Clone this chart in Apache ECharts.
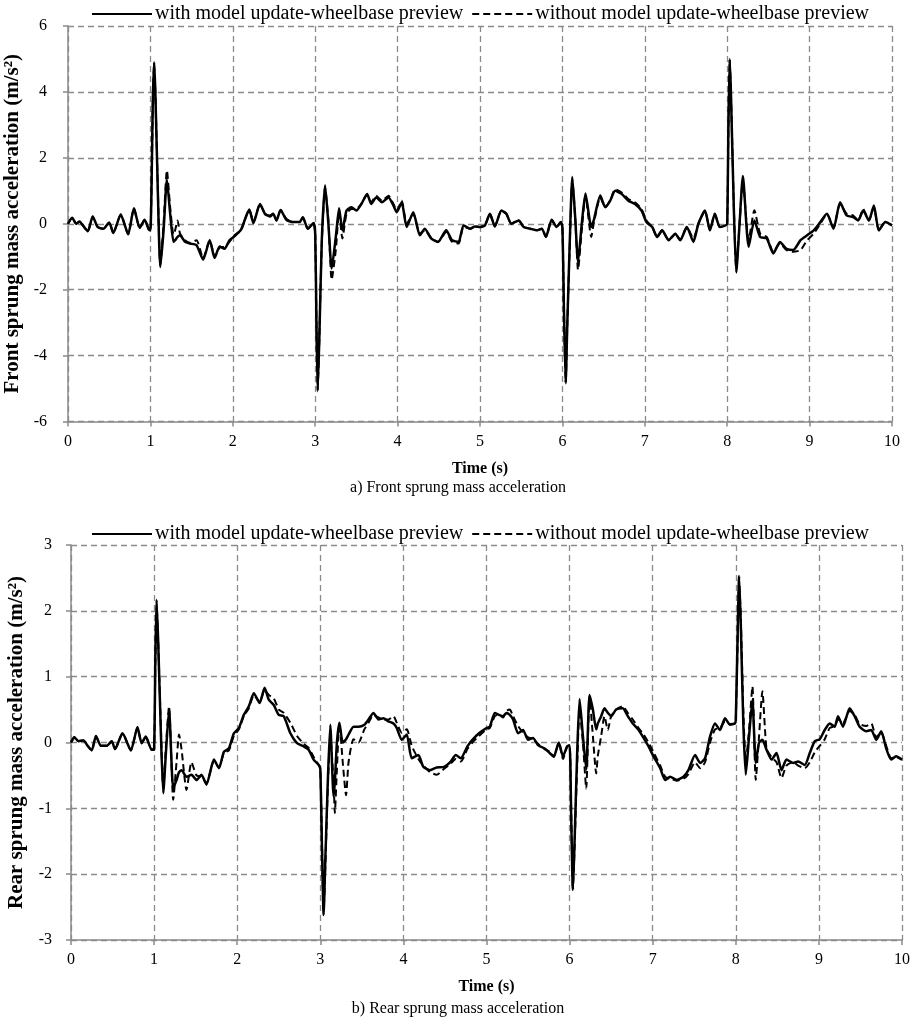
<!DOCTYPE html>
<html>
<head>
<meta charset="utf-8">
<script src="https://cdn.jsdelivr.net/npm/echarts@6/dist/echarts.min.js"></script>
<style>
html,body{margin:0;padding:0;background:#fff;}
#chart{width:916px;height:1036px;}
</style>
</head>
<body>
<div id="chart"></div>
<script>
// ---------- DATA ----------
const seriesNames = ['with model update-wheelbase preview', 'without model update-wheelbase preview'];
const xTicks = [0,1,2,3,4,5,6,7,8,9,10];

const frontT = [0.00,0.05,0.10,0.14,0.18,0.24,0.30,0.36,0.43,0.50,0.55,0.64,0.73,0.80,0.87,0.93,0.98,
1.00,1.03,1.045,1.06,1.09,1.12,1.16,1.20,1.24,1.28,1.30,1.33,1.36,1.42,1.48,1.56,1.64,1.72,1.78,1.84,1.90,1.96,
2.02,2.10,2.20,2.25,2.33,2.39,2.45,2.49,2.53,2.58,2.65,2.73,2.81,2.85,2.91,2.98,
3.00,3.015,3.03,3.05,3.08,3.12,3.16,3.20,3.25,3.29,3.33,3.38,3.44,3.50,3.56,3.63,3.68,3.74,3.81,3.89,3.95,3.99,
4.05,4.11,4.19,4.27,4.33,4.41,4.49,4.59,4.66,4.74,4.80,4.88,4.94,
5.00,5.06,5.12,5.18,5.26,5.32,5.38,5.47,5.53,5.61,5.69,5.75,5.80,5.87,5.93,5.98,
6.00,6.02,6.04,6.06,6.09,6.12,6.155,6.19,6.235,6.28,6.35,6.38,6.46,6.52,6.58,6.64,6.72,6.80,6.88,6.96,
7.02,7.09,7.15,7.21,7.29,7.37,7.43,7.51,7.59,7.65,7.73,7.79,7.85,7.91,7.98,
8.00,8.015,8.03,8.045,8.08,8.11,8.15,8.19,8.26,8.33,8.40,8.48,8.56,8.64,8.72,8.80,8.89,8.97,
9.05,9.13,9.21,9.29,9.37,9.45,9.53,9.59,9.65,9.72,9.78,9.84,9.92,10.00];

const frontWith = [0.00,0.18,0.00,0.07,-0.05,-0.23,0.22,-0.10,-0.15,0.04,-0.28,0.28,-0.32,0.47,-0.13,0.12,-0.17,
-0.20,3.80,4.90,4.00,1.00,-1.31,-0.20,1.34,0.30,-0.55,-0.50,-0.40,-0.35,-0.55,-0.60,-0.65,-1.09,-0.50,-1.04,-0.69,-0.76,-0.50,
-0.38,-0.18,0.43,0.02,0.60,0.30,0.22,0.30,0.10,0.42,0.12,0.05,0.05,0.20,-0.15,0.02,
-0.30,-3.00,-5.08,-3.50,-0.50,1.17,0.00,-1.36,-0.40,0.47,-0.20,0.40,0.50,0.40,0.60,0.90,0.60,0.80,0.65,0.80,0.55,0.35,
0.65,-0.10,0.35,-0.35,-0.15,-0.45,-0.55,-0.20,-0.50,-0.55,-0.05,-0.15,-0.08,
-0.10,-0.05,0.30,-0.08,0.40,0.30,0.00,0.10,-0.10,-0.15,-0.20,-0.15,-0.40,0.12,-0.10,0.05,
-0.10,-2.80,-4.84,-3.00,-0.50,1.42,0.20,-1.16,0.00,0.92,-0.10,0.10,0.86,0.50,0.70,1.00,0.90,0.70,0.60,0.40,
0.05,-0.10,-0.40,-0.20,-0.50,-0.30,-0.50,-0.10,-0.55,0.00,0.40,-0.20,0.30,-0.10,-0.05,
0.00,3.00,5.00,4.00,0.50,-1.48,0.00,1.45,-0.70,0.10,-0.40,-0.45,-0.90,-0.55,-0.76,-0.80,-0.50,-0.35,
-0.20,0.05,0.30,-0.15,0.65,0.25,0.20,0.10,0.40,0.10,0.55,-0.20,0.05,-0.05];

const frontWithout = [0.00,0.18,0.00,0.07,-0.05,-0.23,0.22,-0.10,-0.15,0.04,-0.28,0.28,-0.32,0.47,-0.13,0.12,-0.17,
-0.20,3.70,4.85,4.00,1.10,-1.25,0.00,1.62,0.50,-0.33,-0.20,0.10,-0.30,-0.50,-0.58,-0.50,-1.05,-0.50,-1.00,-0.72,-0.70,-0.55,
-0.35,-0.20,0.43,0.05,0.60,0.30,0.25,0.30,0.10,0.42,0.15,0.05,0.05,0.20,-0.15,0.02,
-0.30,-2.90,-5.00,-3.50,-0.60,1.10,0.10,-1.70,-0.80,0.35,-0.45,0.30,0.45,0.45,0.60,0.88,0.65,0.85,0.70,0.85,0.60,0.40,
0.70,0.00,0.30,-0.30,-0.20,-0.45,-0.55,-0.25,-0.55,-0.60,-0.10,-0.15,-0.08,
-0.10,-0.05,0.30,-0.08,0.40,0.30,0.00,0.10,-0.10,-0.15,-0.20,-0.15,-0.40,0.12,-0.10,0.05,
-0.10,-2.70,-4.80,-3.00,-0.60,1.35,0.20,-1.40,-0.20,0.85,-0.40,0.00,0.80,0.50,0.70,1.05,0.95,0.75,0.65,0.45,
0.10,-0.10,-0.40,-0.20,-0.50,-0.30,-0.50,-0.10,-0.45,0.00,0.40,-0.20,0.30,-0.10,-0.05,
0.00,2.90,4.95,4.00,0.60,-1.40,0.00,1.30,-0.50,0.41,-0.30,-0.40,-0.85,-0.60,-0.80,-0.85,-0.80,-0.50,
-0.30,0.00,0.30,-0.10,0.60,0.30,0.25,0.10,0.45,0.10,0.50,-0.20,0.05,-0.05];

const rearT = [0.00,0.04,0.09,0.15,0.20,0.25,0.30,0.36,0.43,0.49,0.53,0.62,0.72,0.80,0.85,0.90,0.97,
1.00,1.015,1.03,1.05,1.08,1.11,1.145,1.18,1.23,1.27,1.30,1.33,1.39,1.45,1.51,1.57,1.63,1.72,1.78,1.84,1.90,1.96,
2.02,2.08,2.14,2.20,2.27,2.33,2.38,2.44,2.50,2.56,2.64,2.72,2.80,2.86,2.92,2.98,
3.00,3.02,3.04,3.06,3.09,3.12,3.16,3.175,3.20,3.23,3.27,3.31,3.34,3.40,3.46,3.53,3.58,3.64,3.70,3.76,3.82,3.88,3.92,3.98,
4.04,4.10,4.18,4.24,4.32,4.40,4.49,4.57,4.63,4.69,4.77,4.83,4.91,
5.00,5.04,5.10,5.15,5.20,5.24,5.28,5.32,5.38,5.44,5.50,5.56,5.62,5.70,5.76,5.81,5.87,5.92,5.97,
6.00,6.02,6.04,6.06,6.09,6.12,6.16,6.20,6.24,6.28,6.32,6.34,6.38,6.42,6.46,6.50,6.56,6.64,6.70,6.76,6.83,6.89,6.95,
7.01,7.09,7.15,7.21,7.29,7.37,7.43,7.51,7.57,7.63,7.69,7.75,7.81,7.87,7.93,7.99,
8.00,8.02,8.04,8.06,8.09,8.12,8.16,8.20,8.24,8.28,8.32,8.37,8.43,8.49,8.55,8.61,8.69,8.75,8.83,8.89,8.95,
9.01,9.07,9.13,9.19,9.23,9.29,9.37,9.43,9.49,9.57,9.63,9.69,9.75,9.81,9.87,9.93,10.00];

const rearWith = [0.00,0.08,0.02,0.03,-0.05,-0.12,0.10,-0.05,-0.05,0.02,-0.10,0.14,-0.12,0.23,-0.01,0.09,-0.11,
-0.10,1.30,2.17,1.50,0.20,-0.77,-0.10,0.50,-0.69,-0.57,-0.45,-0.42,-0.52,-0.49,-0.57,-0.49,-0.64,-0.26,-0.39,-0.14,-0.09,0.14,
0.22,0.42,0.55,0.75,0.60,0.83,0.65,0.57,0.42,0.40,0.14,-0.01,-0.06,-0.11,-0.26,-0.34,
-0.40,-1.60,-2.62,-1.80,-0.60,0.27,-0.82,-0.60,0.00,0.30,0.00,0.05,0.12,0.24,0.24,0.27,0.35,0.45,0.35,0.37,0.32,0.29,0.22,0.04,
0.12,-0.24,-0.19,-0.37,-0.42,-0.38,-0.37,-0.29,-0.19,-0.24,-0.06,0.04,0.14,
0.22,0.24,0.45,0.42,0.40,0.45,0.42,0.35,0.14,0.19,0.04,0.07,-0.04,-0.09,-0.16,-0.21,0.00,-0.21,-0.06,
-0.04,-1.20,-2.24,-1.50,-0.20,0.66,0.10,-0.41,0.72,0.50,0.20,0.29,0.40,0.52,0.45,0.40,0.50,0.52,0.40,0.29,0.19,0.07,-0.06,
-0.21,-0.39,-0.57,-0.52,-0.57,-0.52,-0.42,-0.19,-0.31,-0.24,0.09,0.29,0.19,0.37,0.27,0.29,
0.35,1.50,2.53,1.80,0.30,-0.49,0.10,0.65,-0.31,0.00,0.04,-0.11,-0.26,-0.16,-0.42,-0.26,-0.31,-0.29,-0.34,-0.16,0.02,
0.05,0.19,0.29,0.24,0.40,0.24,0.52,0.40,0.24,0.17,0.19,0.04,0.17,-0.09,-0.26,-0.21,-0.26];

const rearWithout = [0.00,0.08,0.02,0.03,-0.05,-0.12,0.10,-0.05,-0.05,0.02,-0.10,0.14,-0.12,0.23,-0.01,0.09,-0.11,
-0.10,1.20,2.10,1.50,0.30,-0.70,0.00,0.55,-0.87,-0.30,0.12,-0.10,-0.72,-0.30,-0.50,-0.52,-0.62,-0.28,-0.38,-0.16,-0.12,0.10,
0.20,0.40,0.52,0.72,0.62,0.80,0.72,0.67,0.50,0.45,0.30,0.10,-0.02,-0.08,-0.22,-0.34,
-0.40,-1.50,-2.55,-1.90,-0.70,0.10,-0.60,-1.07,-0.40,0.30,-0.30,-0.80,-0.30,0.05,0.00,0.20,0.30,0.42,0.38,0.35,0.35,0.40,0.30,0.15,
0.20,-0.05,-0.25,-0.35,-0.45,-0.49,-0.40,-0.32,-0.25,-0.29,-0.10,0.00,0.10,
0.20,0.22,0.40,0.42,0.38,0.48,0.50,0.40,0.25,0.15,0.08,0.05,-0.02,-0.10,-0.14,-0.22,0.00,-0.25,-0.06,
-0.04,-1.10,-2.20,-1.60,-0.40,0.50,0.00,-0.70,0.70,0.10,-0.47,-0.20,0.10,0.40,0.19,0.40,0.50,0.55,0.45,0.35,0.22,0.12,0.00,
-0.15,-0.35,-0.52,-0.55,-0.58,-0.55,-0.48,-0.30,-0.39,-0.30,0.00,0.20,0.22,0.32,0.28,0.29,
0.35,1.40,2.45,1.90,0.50,-0.30,0.20,0.85,-0.57,0.10,0.78,-0.10,-0.22,-0.30,-0.54,-0.35,-0.30,-0.35,-0.39,-0.30,-0.15,
-0.05,0.05,0.22,0.25,0.35,0.30,0.48,0.42,0.28,0.25,0.29,0.08,0.15,-0.05,-0.24,-0.22,-0.26];

const frontYTicks = {min:-6, max:6, step:2};
const rearYTicks = {min:-3, max:3, step:1};
const titles = {
  frontY: 'Front sprung mass acceleration (m/s²)',
  rearY: 'Rear sprung mass acceleration (m/s²)',
  x: 'Time (s)',
  capA: 'a) Front sprung mass acceleration',
  capB: 'b) Rear sprung mass acceleration'
};

// ---------- CHART ----------
const FONT = 'Liberation Serif';
const gridGray = '#8a8a8a';
const pair = (ts, vs) => ts.map((t, i) => [t, vs[i]]);

function xAxisCfg(gridIndex) {
  return {
    type: 'value', gridIndex, min: 0, max: 10, interval: 1,
    name: titles.x, nameLocation: 'middle', nameGap: 39,
    nameTextStyle: {fontFamily: FONT, fontWeight: 'bold', fontSize: 16, color: '#000'},
    axisLine: {show: true, onZero: false, lineStyle: {color: gridGray, width: 1.5}},
    axisTick: {show: true, length: 5, lineStyle: {color: gridGray, width: 1.5}},
    axisLabel: {fontFamily: FONT, fontSize: 16, color: '#000', margin: 12},
    splitLine: {show: true, lineStyle: {color: gridGray, width: 1.3, type: [6, 4]}}
  };
}
function yAxisCfg(gridIndex, tk, name, margin, gap) {
  return {
    type: 'value', gridIndex, min: tk.min, max: tk.max, interval: tk.step,
    name, nameLocation: 'middle', nameGap: gap,
    nameTextStyle: {fontFamily: FONT, fontWeight: 'bold', fontSize: 21, color: '#000'},
    axisLine: {show: true, onZero: false, lineStyle: {color: gridGray, width: 1.5}},
    axisTick: {show: true, length: 5, lineStyle: {color: gridGray, width: 1.5}},
    axisLabel: {fontFamily: FONT, fontSize: 16, color: '#000', margin},
    splitLine: {show: true, lineStyle: {color: gridGray, width: 1.3, type: [6, 4]}}
  };
}
function lineSeries(name, data, idx, dashed) {
  return {
    name, type: 'line', data, xAxisIndex: idx, yAxisIndex: idx,
    showSymbol: false, symbol: 'none', smooth: 0.2, animation: false,
    lineStyle: {color: '#000', width: dashed ? 2 : 2.5, type: dashed ? [7, 4] : 'solid'},
    itemStyle: {color: '#000'}
  };
}
function legendCfg(top, left) {
  return {
    top, left, itemWidth: 60, itemHeight: 12, itemGap: 8,
    data: seriesNames,
    itemStyle: {opacity: 0, borderWidth: 0},
    textStyle: {fontFamily: FONT, fontSize: 20, color: '#000', padding: [0, 0, 0, -2]},
    selectedMode: false
  };
}

const chart = echarts.init(document.getElementById('chart'), null, {renderer: 'canvas'});
chart.setOption({
  backgroundColor: '#fff',
  animation: false,
  textStyle: {fontFamily: FONT},
  legend: [legendCfg(-1, 86), legendCfg(519, 86)],
  grid: [
    {left: 68, top: 26, width: 824, height: 395.5, outerBoundsMode: 'none', containLabel: false},
    {left: 71, top: 545, width: 831, height: 395, outerBoundsMode: 'none', containLabel: false}
  ],
  xAxis: [xAxisCfg(0), xAxisCfg(1)],
  yAxis: [yAxisCfg(0, frontYTicks, titles.frontY, 21, 40), yAxisCfg(1, rearYTicks, titles.rearY, 19, 44)],
  series: [
    lineSeries(seriesNames[1], pair(frontT, frontWithout), 0, true),
    lineSeries(seriesNames[0], pair(frontT, frontWith), 0, false),
    lineSeries(seriesNames[1], pair(rearT, rearWithout), 1, true),
    lineSeries(seriesNames[0], pair(rearT, rearWith), 1, false)
  ],
  graphic: [
    {type: 'text', left: 'center', top: 480, style: {text: titles.capA, font: '16px "Liberation Serif"', fill: '#000'}},
    {type: 'text', left: 'center', top: 1001, style: {text: titles.capB, font: '16px "Liberation Serif"', fill: '#000'}}
  ]
});
</script>
</body>
</html>
